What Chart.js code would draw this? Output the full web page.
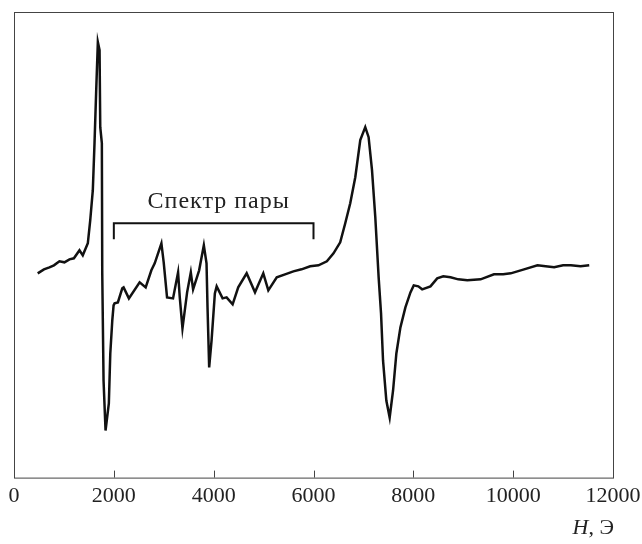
<!DOCTYPE html>
<html>
<head>
<meta charset="utf-8">
<script src="https://cdn.jsdelivr.net/npm/chart.js@4"></script>
<style>
    html, body { margin: 0; padding: 0; background: #fff; }
    #wrap { width: 642px; height: 544px; }
</style>
</head>
<body>
<div id="wrap"><canvas id="epr"></canvas></div>
<script>
// --- Spectrum data (arbitrary intensity units) ---
const fieldH = [
    475, 600, 709, 800, 910, 1010, 1111, 1200, 1312, 1378, 1479, 1527, 1579, 1613, 1647, 1680, 1714, 1728, 1760,
    1768, 1794, 1834, 1900, 1929, 1969, 1995, 2015, 2081, 2169, 2196, 2302, 2517, 2638,
    2752, 2819, 2953, 2999, 3066, 3186, 3287, 3321, 3375, 3468, 3542, 3588, 3709, 3803,
    3857, 3877, 3910, 3958, 4024, 4060, 4179, 4259, 4380, 4492, 4661, 4828, 4994, 5095,
    5264, 5430, 5597, 5760, 5933, 6100, 6268, 6401, 6535, 6636, 6736, 6837, 6937, 7037, 7104, 7172, 7238,
    7305, 7353, 7393, 7459, 7526, 7594, 7660, 7741, 7841, 7942, 8008, 8100, 8177, 8343, 8478,
    8600, 8745, 8900, 9081, 9348, 9615, 9800, 9951, 10218, 10487, 10650, 10821, 11000, 11156, 11350, 11524
];
const signal = [
    -3, 1, 3, 5, 9, 8, 11, 12, 20, 15, 27, 50, 80, 127, 180, 228, 220, 143, 127,
    -3, -110, -160, -133, -83, -50, -35, -33, -32, -18, -17, -28, -12, -17,
    0, 7, 27, 8, -27, -28, -2, -27, -58, -22, -2, -19, 0, 25,
    7, -37, -97, -70, -23, -16, -28, -27, -34, -17, -3, -22, -3, -20,
    -7, -4, -1, 1, 4, 5, 9, 17, 28, 47, 67, 93, 130, 143, 133, 100, 53,
    -7, -43, -90, -130, -147, -120, -83, -57, -37, -22, -15, -16, -19, -16, -8,
    -6, -7, -9, -10, -9, -4, -4, -3, 1, 5, 4, 3, 5, 5, 4, 5
];

// --- "Спектр пары" bracket ---
const bracketH = [2000, 2000, 6000, 6000];
const bracketY = [31, 47, 47, 31];
const bracketLabel = 'Спектр пары';

// --- Axis ---
const xTicks = [0, 2000, 4000, 6000, 8000, 10000, 12000];
const xTitleItalic = 'H';
const xTitleRest = ', Э';

const FONT = '"Liberation Serif", "DejaVu Serif", serif';

document.addEventListener('DOMContentLoaded', () => {
    const ctx = document.getElementById('epr').getContext('2d');

    // box around the plot, inward ticks, bracket label and axis title
    const decorations = {
        id: 'decorations',
        afterDraw(chart) {
            const c = chart.ctx;
            const area = chart.chartArea;
            const xs = chart.scales.x;
            const ys = chart.scales.y;
            c.save();
            c.strokeStyle = '#444';
            c.lineWidth = 1;
            c.strokeRect(area.left + 0.5, area.top + 0.5,
                area.right - area.left, area.bottom - area.top);

            // ticks pointing into the plot
            c.beginPath();
            xTicks.slice(1, -1).forEach(v => {
                const px = Math.round(xs.getPixelForValue(v)) + 0.5;
                c.moveTo(px, area.bottom);
                c.lineTo(px, area.bottom - 7);
            });
            c.stroke();

            c.fillStyle = '#222';
            c.font = '24px ' + FONT;
            c.letterSpacing = '1px';
            c.textAlign = 'center';
            c.textBaseline = 'alphabetic';
            const midX = xs.getPixelForValue((bracketH[0] + bracketH[2]) / 2);
            c.fillText(bracketLabel, midX + 5, ys.getPixelForValue(bracketY[1]) - 15);
            c.letterSpacing = '0px';

            // H, Э  (italic H)
            c.textAlign = 'left';
            const rightX = area.right + 1;
            c.font = '22px ' + FONT;
            const restW = c.measureText(xTitleRest).width;
            c.font = 'italic 22px ' + FONT;
            const hW = c.measureText(xTitleItalic).width;
            const baseY = 534;
            c.fillText(xTitleItalic, rightX - restW - hW, baseY);
            c.font = '22px ' + FONT;
            c.fillText(xTitleRest, rightX - restW, baseY);
            c.restore();
        }
    };

    new Chart(ctx, {
        type: 'line',
        data: {
            datasets: [
                {
                    data: fieldH.map((h, i) => ({ x: h, y: signal[i] })),
                    borderColor: '#111',
                    borderWidth: 2.5,
                    pointRadius: 0,
                    tension: 0,
                    fill: false
                },
                {
                    data: bracketH.map((h, i) => ({ x: h, y: bracketY[i] })),
                    borderColor: '#111',
                    borderWidth: 2,
                    pointRadius: 0,
                    tension: 0,
                    fill: false
                }
            ]
        },
        options: {
            responsive: true,
            maintainAspectRatio: false,
            animation: false,
            layout: { padding: { left: 14, right: 29, top: 12, bottom: 30 } },
            scales: {
                x: {
                    type: 'linear',
                    min: 0,
                    max: 12000,
                    afterBuildTicks: (axis) => {
                        axis.ticks = xTicks.map(v => ({ value: v }));
                    },
                    // let the layout padding alone decide the plot box
                    afterFit: (axis) => {
                        axis.paddingLeft = 0;
                        axis.paddingRight = 0;
                    },
                    grid: { display: false, drawTicks: false },
                    border: { display: false },
                    ticks: {
                        color: '#222',
                        padding: 5,
                        maxRotation: 0,
                        autoSkip: false,
                        font: { family: FONT, size: 22 },
                        callback: (v) => String(v)
                    }
                },
                y: {
                    type: 'linear',
                    display: false,
                    min: -207,
                    max: 258
                }
            },
            plugins: {
                legend: { display: false },
                tooltip: { enabled: false }
            }
        },
        plugins: [decorations]
    });
});
</script>
</body>
</html>
